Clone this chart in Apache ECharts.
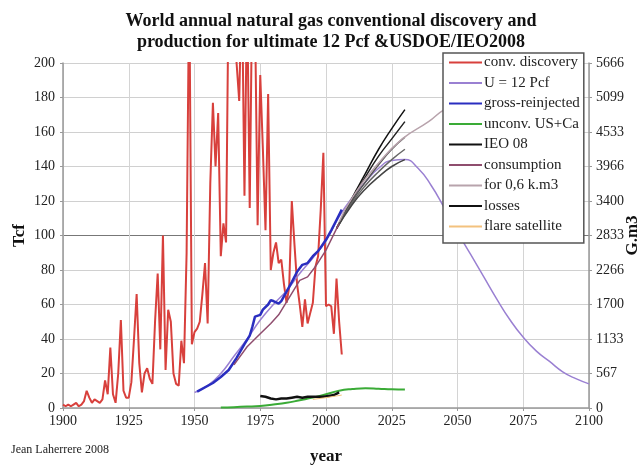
<!DOCTYPE html>
<html>
<head>
<meta charset="utf-8">
<script src="https://cdn.jsdelivr.net/npm/echarts@6/dist/echarts.min.js"></script>
<style>
    html, body { margin: 0; padding: 0; background: #fff; }
    #chart { width: 643px; height: 466px; }
</style>
</head>
<body>
<div id="chart"></div>
<script>
// conventional discovery, Tcf per year
var discYears = [];
for (var y = 1900; y <= 2006; y++) discYears.push(y);
var discValues = [
    2, 1, 2, 1, 2, 3, 1, 2, 4, 10,          // 1900-1909
    6, 3, 5, 4, 3, 5, 16, 8, 35, 8,         // 1910-1919
    3, 20, 51, 10, 6, 6, 15, 40, 66, 26,    // 1920-1929
    9, 20, 23, 17, 14, 50, 78, 34, 100, 22, // 1930-1939
    57, 50, 20, 14, 13, 39, 26, 90, 250, 37, // 1940-1949
    44, 46, 50, 66, 84, 49, 130, 177, 140, 171, // 1950-1959
    88, 107, 96, 250, 240, 230, 200, 178, 250, 123, // 1960-1969
    240, 116, 250, 230, 106, 193, 150, 103, 182, 80, // 1970-1979
    90, 96, 84, 86, 72, 61, 70, 120, 95, 72, // 1980-1989
    60, 47, 63, 49, 55, 61, 82, 88, 115, 148, // 1990-1999
    59, 60, 59, 43, 75, 50, 31              // 2000-2006
];

// ultimate 12 Pcf model
var uYears = [1950, 1955, 1960, 1965, 1970, 1975, 1980, 1985, 1990, 1995, 2000, 2005, 2010, 2015, 2020, 2025, 2030,
    2035, 2040, 2045, 2050, 2055, 2060, 2065, 2070, 2075, 2080, 2085, 2090, 2095, 2100];
var uValues = [9, 13, 20, 30, 40, 51, 60, 68, 78, 87, 97, 111, 122, 131, 139, 143.5, 144,
    139, 129, 116, 102, 89, 76, 63, 51, 41, 33, 27, 21, 17, 14];

// gross production minus reinjected
var grossYears = [1951, 1957, 1960, 1963, 1966, 1969, 1971, 1972, 1973, 1975, 1976, 1978, 1979, 1980, 1982, 1983, 1985,
    1987, 1989, 1991, 1993, 1995, 1997, 1998, 2000, 2002, 2004, 2006];
var grossValues = [9.5, 14.5, 18, 22, 29, 37, 42, 47, 53, 54, 57, 60, 62.5, 62, 60.5, 62, 67.5,
    73, 79, 83, 84, 88, 91, 93, 97.5, 103, 109, 115];

// unconventional US + Canada
var unconvYears = [1960, 1965, 1970, 1975, 1980, 1985, 1990, 1995, 2000, 2005, 2010, 2015, 2020, 2025, 2030];
var unconvValues = [0.3, 0.5, 0.8, 1.2, 2, 3, 4.5, 6, 8, 10, 11, 11.5, 11.2, 10.8, 10.7];

// IEO 2008 scenarios
var ieoYears = [2004, 2010, 2015, 2020, 2025, 2030];
var ieoScenarios = [
    [104, 122, 136, 150, 162, 173],
    [104, 121, 134, 146, 156, 166],
    [104, 120, 131, 141, 150, 157],
    [104, 119, 129, 137, 144, 150],
    [104, 118, 127, 134, 140, 144]
];
var ieoColors = ['#111', '#222', '#555', '#666', '#444'];

// consumption
var consYears = [1965, 1970, 1975, 1979, 1982, 1986, 1990, 1993, 1996, 2000, 2005];
var consValues = [25, 35.5, 43, 49, 54, 64, 74, 76, 82, 91.5, 107];

// consumption path for 0,6 k.m3
var k06Years = [2005, 2010, 2020, 2029, 2039, 2045, 2055];
var k06Values = [108, 122, 142, 156, 166, 173, 180];

// losses
var lossYears = [1975, 1977, 1979, 1981, 1983, 1985, 1987, 1989, 1991, 1993, 1995, 1997, 1999, 2001, 2003, 2005];
var lossValues = [7, 6.5, 5.5, 5, 5.5, 5.5, 6, 6.5, 6, 6.5, 6.5, 6.5, 6.5, 7, 7.5, 9];

// flaring seen by satellite
var flareYears = [1995, 2000, 2006];
var flareValues = [5, 6, 7.5];

// right axis, G.m3 labels
var rightTicks = [0, 567, 1133, 1700, 2266, 2833, 3400, 3966, 4533, 5099, 5666];

function pairs(xs, vs) {
    return xs.map(function (x, i) { return [x, vs[i]]; });
}

var serif = 'Liberation Serif';
var myChart = echarts.init(document.getElementById('chart'));

function lineSeries(name, data, color, width, extra) {
    return Object.assign({
        name: name,
        type: 'line',
        data: data,
        symbol: 'none',
        lineStyle: { color: color, width: width },
        itemStyle: { color: color },
        animation: false
    }, extra || {});
}

var series = [
    lineSeries('conv. discovery', pairs(discYears, discValues), '#d8403c', 2),
    lineSeries('U = 12 Pcf', pairs(uYears, uValues), '#9a80d2', 1.5, { smooth: true }),
    lineSeries('gross-reinjected', pairs(grossYears, grossValues), '#2a2ec0', 2.5),
    lineSeries('unconv. US+Ca', pairs(unconvYears, unconvValues), '#3aab36', 2, { smooth: true })
];
ieoScenarios.forEach(function (vals, i) {
    series.push(lineSeries('IEO 08', pairs(ieoYears, vals), ieoColors[i], 1.5, { smooth: true }));
});
series.push(
    lineSeries('consumption', pairs(consYears, consValues), '#8f4d6e', 1.5),
    lineSeries('for 0,6 k.m3', pairs(k06Years, k06Values), '#b8a3ac', 1.5, { smooth: true }),
    lineSeries('losses', pairs(lossYears, lossValues), '#111', 2.5),
    lineSeries('flare satellite', pairs(flareYears, flareValues), '#f3c27e', 1)
);

var option = {
    animation: false,
    textStyle: { fontFamily: serif },
    title: {
        text: 'World annual natural gas conventional discovery and\nproduction for ultimate 12 Pcf &USDOE/IEO2008',
        left: 326,
        top: 6,
        textAlign: 'center',
        textStyle: { fontFamily: serif, fontSize: 18, fontWeight: 'bold', color: '#111', lineHeight: 21 }
    },
    grid: { left: 63, right: 54, top: 63, bottom: 58, containLabel: false, outerBoundsMode: 'none' },
    legend: {
        orient: 'vertical',
        left: 443,
        top: 53,
        padding: [2, 4, 9, 5],
        itemWidth: 33,
        itemHeight: 12,
        itemGap: 5.5,
        backgroundColor: '#fff',
        borderColor: '#555',
        borderWidth: 1.5,
        itemStyle: { opacity: 0 },
        textStyle: { fontFamily: serif, fontSize: 15, color: '#222', padding: [0, 0, 0, -3] },
        data: ['conv. discovery', 'U = 12 Pcf', 'gross-reinjected', 'unconv. US+Ca', 'IEO 08',
            'consumption', 'for 0,6 k.m3', 'losses', 'flare satellite']
    },
    xAxis: {
        type: 'value',
        min: 1900,
        max: 2100,
        interval: 25,
        name: 'year',
        nameLocation: 'middle',
        nameGap: 40,
        nameMoveOverlap: false,
        nameTextStyle: { fontFamily: serif, fontSize: 17, fontWeight: 'bold', color: '#111' },
        axisLine: { lineStyle: { color: '#999', width: 1.5 } },
        axisTick: { show: true, length: 3, lineStyle: { color: '#999' } },
        axisLabel: {
            fontFamily: serif, fontSize: 14, color: '#222', margin: 6,
            formatter: function (v) { return String(v); }
        },
        splitLine: { show: true, lineStyle: { color: '#d4d4d4' } }
    },
    yAxis: [{
        type: 'value',
        min: 0,
        max: 200,
        interval: 20,
        name: 'Tcf',
        nameLocation: 'middle',
        nameGap: 35,
        nameMoveOverlap: false,
        nameRotate: 90,
        nameTextStyle: { fontFamily: serif, fontSize: 17, fontWeight: 'bold', color: '#111' },
        axisLine: { show: true, lineStyle: { color: '#999', width: 1.5 } },
        axisTick: { show: true, length: 3, lineStyle: { color: '#999' } },
        axisLabel: { fontFamily: serif, fontSize: 14, color: '#222', margin: 8 },
        splitLine: {
            show: true,
            lineStyle: {
                color: ['#d0d0d0', '#d0d0d0', '#d0d0d0', '#d0d0d0', '#d0d0d0', '#777',
                    '#d0d0d0', '#d0d0d0', '#d0d0d0', '#d0d0d0', '#d0d0d0'],
                width: 1.2
            }
        }
    }, {
        type: 'value',
        position: 'right',
        min: 0,
        max: 5666,
        interval: 566.6,
        name: 'G.m3',
        nameLocation: 'middle',
        nameGap: 35,
        nameMoveOverlap: false,
        nameRotate: 90,
        nameTextStyle: { fontFamily: serif, fontSize: 17, fontWeight: 'bold', color: '#111' },
        axisLine: { show: true, lineStyle: { color: '#999', width: 1.5 } },
        axisTick: { show: true, length: 3, lineStyle: { color: '#999' } },
        axisLabel: {
            fontFamily: serif, fontSize: 14, color: '#222', margin: 7,
            formatter: function (v) { return String(rightTicks[Math.round(v / 566.6)]); }
        },
        splitLine: { show: false }
    }],
    graphic: [{
        type: 'text',
        left: 11,
        top: 444,
        style: { text: 'Jean Laherrere 2008', font: '12px "Liberation Serif"', fill: '#222' }
    }],
    series: series
};

myChart.setOption(option);
</script>
</body>
</html>
